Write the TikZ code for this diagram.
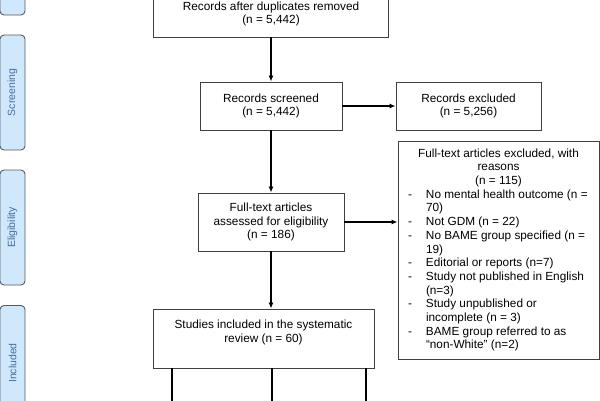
\documentclass[tikz,border=0pt]{standalone}
\usepackage{fontspec}
\setmainfont{Liberation Sans}
\usetikzlibrary{arrows.meta}

\definecolor{tabblue}{RGB}{208,232,251}
\definecolor{tabtext}{RGB}{66,108,165}

\newcommand{\itemdash}{\makebox[18pt][l]{-}}
\newcommand{\itemgap}{\hspace*{18pt}}

\tikzset{
  box/.style={draw=black!75, line width=0.9pt, align=center, font=\fontsize{11.8}{13.7}\selectfont},
  phase/.style={draw=black!65, fill=tabblue, rounded corners=4pt, rotate=90, line width=0.9pt,
    minimum height=25, text=tabtext, font=\fontsize{10.5}{12}\selectfont},
  flow/.style={-{Latex[length=6pt,width=5pt]}, line width=1.2pt}
}

\begin{document}
\begin{tikzpicture}[x=1pt, y=-1pt]

    \useasboundingbox (0,0) rectangle (600,400);
    \clip (0,0) rectangle (600,400);

    % phase tabs on the left
    \node (tabid)    at (12.5,-42.5) [phase, minimum width=115] {};
    \node (tabscr)   at (12.5, 92.5) [phase, minimum width=115] {Screening};
    \node (tabelig)  at (12.5,227.5) [phase, minimum width=115] {Eligibility};
    \node (tabincl)  at (12.5,363.0) [phase, minimum width=115] {Included};

    % main column
    \node (dup)    at (271,14)   [box, minimum width=235, minimum height=46] {Records after duplicates removed\\(n = 5,442)};
    \node (scr)    at (271,106)  [box, minimum width=142, minimum height=48] {Records screened\\(n = 5,442)};
    \node (assess) at (271,222)  [box, minimum width=146, minimum height=58] {Full-text articles\\assessed for eligibility\\(n = 186)};
    \node (incl)   at (263.5,338.5) [box, minimum width=221, minimum height=59, text depth=15pt] {Studies included in the systematic\\review (n = 60)};

    % exclusions
    \node (excl) at (468.5,106) [box, minimum width=145, minimum height=48] {Records excluded\\(n = 5,256)};
    \node (exft) at (498.5,250) [box, align=left, minimum width=201, minimum height=218] {%
        \makebox[181pt]{Full-text articles excluded, with}\\
        \makebox[181pt]{reasons}\\
        \makebox[181pt]{(n = 115)}\\
        \itemdash No mental health outcome (n =\\
        \itemgap 70)\\
        \itemdash Not GDM (n = 22)\\
        \itemdash No BAME group specified (n =\\
        \itemgap 19)\\
        \itemdash Editorial or reports (n=7)\\
        \itemdash Study not published in English\\
        \itemgap (n=3)\\
        \itemdash Study unpublished or\\
        \itemgap incomplete (n = 3)\\
        \itemdash BAME group referred to as\\
        \itemgap “non-White” (n=2)};

    \draw[flow] (dup) -- (scr);
    \draw[flow] (scr) -- (excl);
    \draw[flow] (scr) -- (assess);
    \draw[flow] (assess.east) -- (assess.east -| exft.west);
    \draw[flow] (assess.south) -- (assess.south |- incl.north);

    % lines leaving the bottom edge
    \coordinate (out1) at (172,410);
    \coordinate (out2) at (272,410);
    \coordinate (out3) at (366,410);
    \draw[line width=1.2pt] (incl.south -| out1) -- (out1);
    \draw[line width=1.2pt] (incl.south -| out2) -- (out2);
    \draw[line width=1.2pt] (incl.south -| out3) -- (out3);

\end{tikzpicture}
\end{document}
